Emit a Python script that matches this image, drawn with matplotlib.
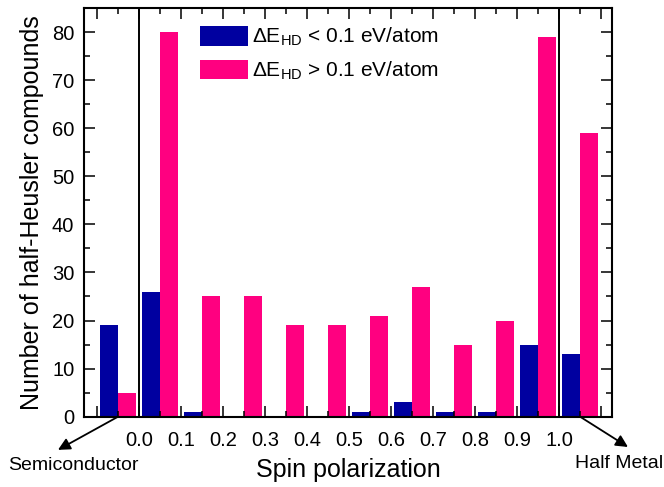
import matplotlib
matplotlib.use("Agg")
import matplotlib.pyplot as plt
from matplotlib.ticker import MultipleLocator, FixedLocator
import numpy as np

plt.rcParams['font.family'] = ['Liberation Sans', 'DejaVu Sans']
plt.rcParams['mathtext.fontset'] = 'custom'
plt.rcParams['mathtext.rm'] = 'Liberation Sans'
plt.rcParams['mathtext.it'] = 'Liberation Sans'

# Group centres: semiconductor bin, ten 0.1-wide polarization bins, half-metal bin
group_centers = [-0.05, 0.05, 0.15, 0.25, 0.35, 0.45, 0.55, 0.65, 0.75, 0.85, 0.95, 1.05]
count_low = [19, 26, 1, 0, 0, 0, 1, 3, 1, 1, 15, 13]      # dE_HD < 0.1 eV/atom
count_high = [5, 80, 25, 25, 19, 19, 21, 27, 15, 20, 79, 59]  # dE_HD > 0.1 eV/atom
tick_values = [0.0, 0.1, 0.2, 0.3, 0.4, 0.5, 0.6, 0.7, 0.8, 0.9, 1.0]
tick_labels = ['0.0', '0.1', '0.2', '0.3', '0.4', '0.5', '0.6', '0.7', '0.8', '0.9', '1.0']

blue = '#0000A0'
pink = '#FF0080'
bar_w = 0.042

fig = plt.figure(figsize=(6.64, 4.87), dpi=100)
ax = fig.add_axes([84/664, 1-416.7/487, (612-84)/664, (416.7-8)/487])

x = np.array(group_centers)
ax.bar(x - bar_w/2, count_low, width=bar_w, color=blue, linewidth=0,
       label=r'$\mathrm{\Delta E_{HD}}$ < 0.1 eV/atom')
ax.bar(x + bar_w/2, count_high, width=bar_w, color=pink, linewidth=0,
       label=r'$\mathrm{\Delta E_{HD}}$ > 0.1 eV/atom')

ax.axvline(0.0, color='black', lw=1.4, zorder=3)
ax.axvline(1.0, color='black', lw=1.4, zorder=3)

ax.set_xlim(-0.131, 1.126)
ax.set_ylim(0, 85)

major_x = [-0.1] + tick_values + [1.1]
ax.xaxis.set_major_locator(FixedLocator(major_x))
ax.set_xticklabels([''] + tick_labels + [''])
ax.xaxis.set_minor_locator(FixedLocator(group_centers))
ax.yaxis.set_major_locator(MultipleLocator(10))
ax.yaxis.set_minor_locator(MultipleLocator(5))

ax.tick_params(which='both', direction='in', top=True, right=True, width=1.1,
               labelsize=14.5, colors='black')
ax.tick_params(which='major', length=8, pad=7)
ax.tick_params(which='minor', length=4)
ax.tick_params(axis='x', which='major', pad=10)
for s in ax.spines.values():
    s.set_linewidth(1.5)

ax.set_xlabel('Spin polarization', fontsize=18, labelpad=6)
ax.set_ylabel('Number of half-Heusler compounds', fontsize=18, labelpad=6)

ax.legend(loc='upper left', bbox_to_anchor=((200-84)/528, 1-(26-8)/408.7),
          frameon=False, fontsize=15, handlelength=2.3, handleheight=1.05,
          handletextpad=0.2, labelspacing=0.55, borderaxespad=0, borderpad=0)

# Arrows pointing to the two end bins
ax.annotate('', xy=(-0.193, -6.9), xytext=(-0.05, 0), annotation_clip=False,
            arrowprops=dict(arrowstyle='-|>', color='black', lw=1.3,
                            mutation_scale=18, shrinkA=0, shrinkB=0))
ax.annotate('', xy=(1.164, -6.3), xytext=(1.05, 0), annotation_clip=False,
            arrowprops=dict(arrowstyle='-|>', color='black', lw=1.3,
                            mutation_scale=18, shrinkA=0, shrinkB=0))
fig.text(73/664, 1-466/487, 'Semiconductor', fontsize=14, ha='center', va='center')
fig.text(619/664, 1-463/487, 'Half Metal', fontsize=14, ha='center', va='center')

fig.savefig('out.png', dpi=100)
